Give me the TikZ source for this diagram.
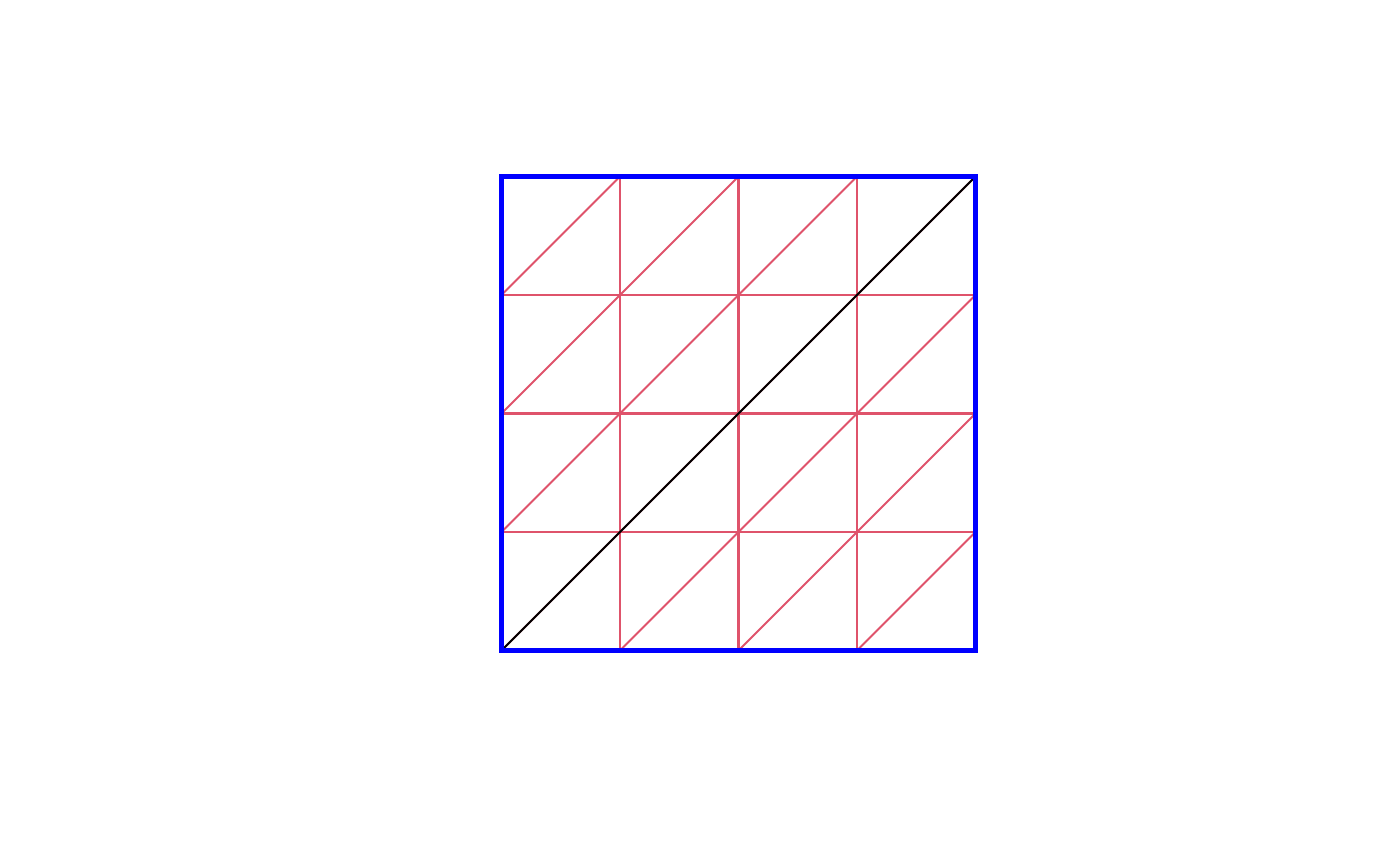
\documentclass[tikz,border=0pt]{standalone}
\usetikzlibrary{positioning}
\definecolor{Mesh}{HTML}{DF536B}
\definecolor{Frame}{HTML}{0000FF}

\begin{document}
\begin{tikzpicture}[x=1.185cm,y=1.185cm]
\useasboundingbox (-5.015cm,-2.155cm) rectangle (8.985cm,6.505cm);
\foreach \i in {1,2,3} {
  \draw[Mesh,line width=.6pt] (\i,0) -- (\i,4);
  \draw[Mesh,line width=.6pt] (0,\i) -- (4,\i);
}
\foreach \k in {-3,...,3} {
  \pgfmathsetmacro{\xa}{max(0,\k)}
  \pgfmathsetmacro{\ya}{max(0,-\k)}
  \draw[Mesh,line width=.6pt] (\xa,\ya) -- ({\xa+4-abs(\k)},{\ya+4-abs(\k)});
}
\draw[black,line width=.6pt] (0,0) -- (4,4);
\draw[Frame,line width=1.4pt] (0,0) rectangle (4,4);
\end{tikzpicture}
\end{document}
